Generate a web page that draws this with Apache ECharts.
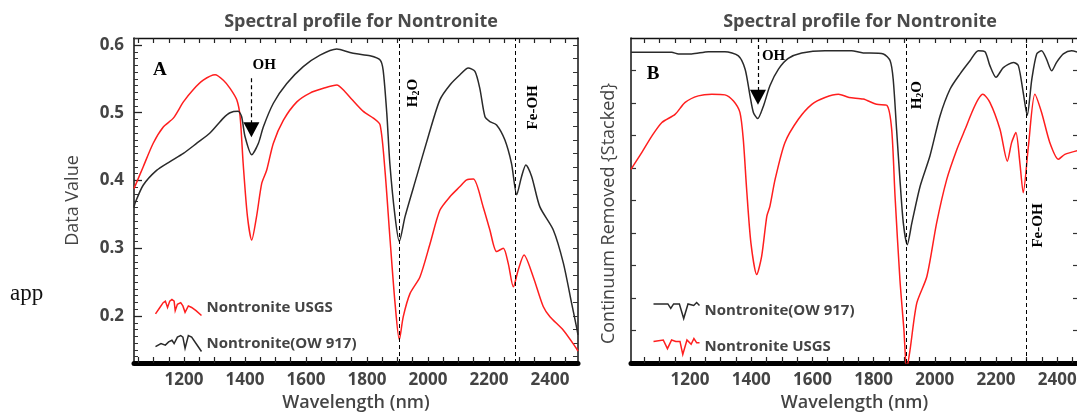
<!DOCTYPE html>
<html>
<head>
<meta charset="utf-8">
<script src="https://cdn.jsdelivr.net/npm/echarts@6/dist/echarts.min.js"></script>
<style>
html,body{margin:0;padding:0;background:#fff;}
#chart{width:1077px;height:417px;}
#app{position:absolute;left:10px;top:280px;font-family:"Liberation Serif",serif;font-size:23px;color:#111;}
</style>
</head>
<body>
<div id="chart"></div>
<div id="app">app</div>
<script>
// ---------- data ----------
const xTickLabels = [1200, 1400, 1600, 1800, 2000, 2200, 2400];
const yTickLabelsA = [0.2, 0.3, 0.4, 0.5, 0.6];
const seriesNames = ['Nontronite USGS', 'Nontronite(OW 917)'];
const titleText = 'Spectral profile for Nontronite';
const featureLinesA = [1905, 2287];
const featureLinesB = [1906, 2298];

// Panel A (Data Value)
const aOwNm = [1036,1039,1066,1110,1154,1198,1242,1285,1329,1351,1378,1389,1400,1422,1444,1460,1493,1537,1591,1646,1701,1744,1766,1810,1843,1853,1865,1875,1892,1906,1925,1963,2001,2039,2072,2105,2132,2154,2170,2187,2203,2225,2252,2274,2291,2307,2321,2340,2367,2411,2444,2471,2487,2492];
const aOwVal = [0.360,0.366,0.393,0.415,0.428,0.440,0.455,0.470,0.492,0.500,0.502,0.494,0.465,0.438,0.455,0.479,0.514,0.543,0.568,0.585,0.594,0.589,0.587,0.584,0.578,0.563,0.499,0.425,0.347,0.310,0.347,0.406,0.465,0.519,0.541,0.556,0.566,0.561,0.536,0.494,0.487,0.482,0.460,0.425,0.379,0.406,0.423,0.406,0.361,0.327,0.278,0.219,0.184,0.172];
const aUsgsNm = [1036,1066,1099,1132,1165,1198,1230,1263,1302,1329,1351,1373,1384,1394,1408,1422,1438,1455,1471,1493,1526,1570,1613,1657,1701,1728,1750,1788,1821,1843,1859,1875,1892,1906,1919,1941,1974,2007,2039,2072,2105,2127,2149,2181,2203,2225,2247,2263,2280,2296,2315,2345,2378,2400,2444,2487,2492];
const aUsgsVal = [0.388,0.420,0.455,0.479,0.492,0.516,0.534,0.548,0.556,0.548,0.536,0.519,0.494,0.425,0.347,0.312,0.347,0.396,0.415,0.455,0.489,0.516,0.529,0.536,0.541,0.531,0.520,0.502,0.492,0.482,0.415,0.317,0.219,0.165,0.199,0.233,0.258,0.307,0.356,0.376,0.391,0.401,0.402,0.361,0.327,0.295,0.300,0.278,0.243,0.268,0.290,0.258,0.214,0.199,0.179,0.152,0.148];

// Panel B (Continuum removed, stacked; relative units)
const bOwNm = [1007,1140,1162,1205,1260,1314,1358,1380,1396,1407,1421,1440,1461,1489,1521,1565,1641,1728,1766,1788,1832,1854,1864,1875,1886,1897,1910,1925,1952,1984,2017,2050,2082,2115,2142,2164,2180,2200,2224,2257,2273,2289,2302,2317,2333,2349,2365,2382,2398,2420,2447,2468];
const bOwVal = [0.956,0.956,0.951,0.951,0.958,0.958,0.945,0.904,0.822,0.771,0.752,0.791,0.853,0.904,0.937,0.954,0.961,0.961,0.954,0.954,0.951,0.930,0.873,0.719,0.565,0.431,0.364,0.431,0.544,0.637,0.760,0.843,0.889,0.930,0.961,0.958,0.915,0.879,0.909,0.925,0.915,0.832,0.762,0.873,0.951,0.961,0.935,0.899,0.925,0.951,0.961,0.956];
const bUsgsNm = [1007,1042,1075,1108,1151,1184,1227,1271,1314,1342,1363,1374,1385,1399,1418,1434,1451,1461,1478,1510,1554,1598,1641,1685,1720,1766,1810,1843,1859,1870,1886,1899,1908,1919,1941,1974,2006,2039,2072,2099,2121,2142,2157,2180,2213,2237,2251,2265,2278,2289,2306,2327,2349,2376,2404,2425,2468];
const bUsgsVal = [0.596,0.647,0.698,0.740,0.765,0.802,0.822,0.827,0.825,0.806,0.771,0.688,0.534,0.369,0.272,0.328,0.452,0.482,0.565,0.678,0.750,0.796,0.817,0.827,0.817,0.812,0.796,0.793,0.719,0.513,0.256,0.102,-0.02,0.040,0.184,0.266,0.431,0.565,0.657,0.719,0.771,0.812,0.827,0.802,0.719,0.621,0.678,0.709,0.616,0.524,0.668,0.827,0.771,0.678,0.627,0.642,0.654];

// ---------- helpers ----------
function zip(xs, ys){ return xs.map((x,i)=>[x, ys[i]]); }
function steps(a, b, s){ const out=[]; for(let v=a; v<=b+1e-9; v+=s){ out.push(Math.round(v*1000)/1000); } return out; }

const RED = '#ff1e1e', BLACK = '#2a2a2a';
const FONT = 'Open Sans';
const SERIF = 'Liberation Serif';

const xMinorTicks = steps(1050, 2450, 50);
const ATop = 38, AH = 325;

const chart = echarts.init(document.getElementById('chart'), null, {renderer:'canvas'});

function xBottom(grid, min, max){
  return {
    type:'value', gridIndex:grid, min:min, max:max, position:'bottom',
    name:'Wavelength (nm)', nameLocation:'middle', nameGap:30,
    nameTextStyle:{fontFamily:FONT, fontSize:18, fontWeight:600, color:'#444'},
    axisLine:{show:true, onZero:false, lineStyle:{color:'#000', width:5}},
    axisTick:{show:true, inside:true, length:6, customValues:xMinorTicks, lineStyle:{color:'#222', width:1.2}},
    axisLabel:{show:true, customValues:xTickLabels, formatter:v=>String(v), margin:9, fontFamily:FONT, fontSize:17, fontWeight:'bold', color:'#444'},
    splitLine:{show:false}
  };
}
function xTop(grid, min, max){
  return {
    type:'value', gridIndex:grid, min:min, max:max, position:'top',
    axisLine:{show:true, onZero:false, lineStyle:{color:'#111', width:1.3}},
    axisTick:{show:true, inside:true, length:5, customValues:xMinorTicks, lineStyle:{color:'#222', width:1.2}},
    axisLabel:{show:false}, splitLine:{show:false}
  };
}

const yMinA = 0.1306, yMaxA = 0.6103;
const serifLabel = (txt, size, rotate) => ({show:true, position:'inside', formatter:txt, rotate:rotate||0, fontFamily:SERIF, fontSize:size, fontWeight:'bold', color:'#000'});
const h2oLabel = {show:true, position:'inside', rotate:90, formatter:'{a|H}{s|2}{a|O}',
  rich:{a:{fontFamily:SERIF, fontSize:15, fontWeight:'bold', color:'#000'}, s:{fontFamily:SERIF, fontSize:10, fontWeight:'bold', color:'#000', padding:[6,0,0,0]}}};
const arrowHead = (coord) => ({coord:coord, symbol:'triangle', symbolRotate:180, symbolSize:[16,15], itemStyle:{color:'#000'}, label:{show:false}});

const option = {
  animation:false,
  backgroundColor:'#fff',
  title:[
    {text:titleText, left:356, top:8, textAlign:'center', textStyle:{fontFamily:FONT, fontSize:18, fontWeight:'bold', color:'#4a4a4a'}},
    {text:titleText, left:855, top:8, textAlign:'center', textStyle:{fontFamily:FONT, fontSize:18, fontWeight:'bold', color:'#4a4a4a'}}
  ],
  grid:[
    {left:134, top:ATop, width:444, height:AH, containLabel:false, outerBoundsMode:'none'},
    {left:631, top:ATop, width:447, height:AH, containLabel:false, outerBoundsMode:'none'}
  ],
  legend:[
    {
      orient:'vertical', left:148, top:292, itemWidth:46, itemHeight:16, itemGap:15,
      symbolKeepAspect:false,
      textStyle:{fontFamily:FONT, fontSize:15, fontWeight:'bold', color:'#444'},
      data:[
        {name:seriesNames[0], icon:'path://M0,11 L4,7 L7,4 L9,3 L11,7 L13,3 L15,2 L17,3 L18,9 L20,5 L23,4 L25,6 L27,10 L30,6 L33,7 L37,9 L42,12',
          itemStyle:{color:'none', borderColor:RED, borderWidth:1.5}},
        {name:seriesNames[1], icon:'path://M0,10 L5,8 L9,9 L12,7 L15,6 L17,8 L20,4 L23,3 L25,4 L27,11 L30,3 L33,4 L37,8 L42,13',
          itemStyle:{color:'none', borderColor:BLACK, borderWidth:1.5}}
      ]
    },
    {
      orient:'vertical', left:646, top:295, itemWidth:46, itemHeight:16, itemGap:15,
      symbolKeepAspect:false,
      textStyle:{fontFamily:FONT, fontSize:15, fontWeight:'bold', color:'#444'},
      data:[
        {name:seriesNames[1], icon:'path://M0,2 L10,2 L12,5 L14,2 L18,2 L21,12 L24,2 L28,3 L30,1 L32,3',
          itemStyle:{color:'none', borderColor:BLACK, borderWidth:1.5}},
        {name:seriesNames[0], icon:'path://M0,4 L7,3 L10,9 L13,3 L16,4 L19,4 L21,13 L24,3 L27,6 L29,2 L31,5 L33,5',
          itemStyle:{color:'none', borderColor:RED, borderWidth:1.5}}
      ]
    }
  ],
  xAxis:[
    xBottom(0, 1036, 2492),
    xTop(0, 1036, 2492),
    xBottom(1, 1007, 2468),
    xTop(1, 1007, 2468)
  ],
  yAxis:[
    { // 0: A left, labels + minor ticks
      type:'value', gridIndex:0, min:yMinA, max:yMaxA, position:'left',
      name:'Data Value', nameLocation:'middle', nameGap:52,
      nameTextStyle:{fontFamily:FONT, fontSize:18, color:'#444'},
      axisLine:{show:true, onZero:false, lineStyle:{color:'#111', width:1.5}},
      axisTick:{show:true, inside:true, length:4, customValues:steps(0.14, 0.61, 0.01), lineStyle:{color:'#333', width:1}},
      axisLabel:{show:true, customValues:yTickLabelsA, formatter:v=>String(v), margin:10, fontFamily:FONT, fontSize:17, fontWeight:'bold', color:'#444'},
      splitLine:{show:false}
    },
    { // 1: A right
      type:'value', gridIndex:0, min:yMinA, max:yMaxA, position:'right',
      axisLine:{show:true, onZero:false, lineStyle:{color:'#111', width:1.5}},
      axisTick:{show:true, inside:true, length:5, customValues:steps(0.14, 0.6, 0.02), lineStyle:{color:'#333', width:1}},
      axisLabel:{show:false}, splitLine:{show:false}
    },
    { // 2: A left major ticks
      type:'value', gridIndex:0, min:yMinA, max:yMaxA, position:'left',
      axisLine:{show:false},
      axisTick:{show:true, inside:true, length:8, customValues:yTickLabelsA, lineStyle:{color:'#222', width:1.3}},
      axisLabel:{show:false}, splitLine:{show:false}
    },
    { // 3: B left
      type:'value', gridIndex:1, min:0, max:1, position:'left',
      name:'Continuum Removed {Stacked}', nameLocation:'middle', nameGap:13,
      nameTextStyle:{fontFamily:FONT, fontSize:18, color:'#444', padding:[0,26,0,0]},
      axisLine:{show:true, onZero:false, lineStyle:{color:'#111', width:1.5}},
      axisTick:{show:true, inside:true, length:5, customValues:steps(0.1, 0.9, 0.1), lineStyle:{color:'#333', width:1.2}},
      axisLabel:{show:false}, splitLine:{show:false}
    },
    { // 4: B right
      type:'value', gridIndex:1, min:0, max:1, position:'right',
      axisLine:{show:true, onZero:false, lineStyle:{color:'#111', width:1.5}},
      axisTick:{show:true, inside:true, length:5, customValues:steps(0.1, 0.9, 0.1), lineStyle:{color:'#333', width:1.2}},
      axisLabel:{show:false}, splitLine:{show:false}
    }
  ],
  series:[
    {
      name:seriesNames[0], type:'line', xAxisIndex:0, yAxisIndex:0,
      data:zip(aUsgsNm, aUsgsVal), showSymbol:false, smooth:0.25,
      lineStyle:{color:RED, width:1.5}, itemStyle:{color:RED}, z:3,
      markLine:{
        silent:true, symbol:['none','none'], label:{show:false},
        lineStyle:{color:'#000', type:[4,3], width:1},
        data: featureLinesA.map(v=>({xAxis:v}))
      },
      markPoint:{
        symbolSize:0, silent:true,
        data:[
          {coord:[1121,0.563], label:serifLabel('A', 19)},
          {coord:[1463,0.570], label:serifLabel('OH', 15)},
          {coord:[1951,0.529], label:h2oLabel},
          {coord:[2345,0.508], label:serifLabel('Fe-OH', 15, 90)}
        ]
      }
    },
    {
      name:seriesNames[1], type:'line', xAxisIndex:0, yAxisIndex:0,
      data:zip(aOwNm, aOwVal), showSymbol:false, smooth:0.25,
      lineStyle:{color:BLACK, width:1.5}, itemStyle:{color:BLACK}, z:3,
      markLine:{
        silent:true, symbol:['none','none'], label:{show:false},
        lineStyle:{color:'#000', type:[4,3], width:1.2},
        data:[[{coord:[1421,0.551]},{coord:[1421,0.485]}]]
      },
      markPoint:{ silent:true, data:[arrowHead([1421,0.475])] }
    },
    {
      name:seriesNames[1], type:'line', xAxisIndex:2, yAxisIndex:3,
      data:zip(bOwNm, bOwVal), showSymbol:false, smooth:0.25,
      lineStyle:{color:BLACK, width:1.5}, itemStyle:{color:BLACK}, z:3,
      markLine:{
        silent:true, symbol:['none','none'], label:{show:false},
        lineStyle:{color:'#000', type:[4,3], width:1.2},
        data:[[{coord:[1422,1.0]},{coord:[1422,0.83]}]]
      },
      markPoint:{ silent:true, data:[arrowHead([1422,0.818])] }
    },
    {
      name:seriesNames[0], type:'line', xAxisIndex:2, yAxisIndex:3,
      data:zip(bUsgsNm, bUsgsVal), showSymbol:false, smooth:0.25,
      lineStyle:{color:RED, width:1.5}, itemStyle:{color:RED}, z:3,
      markLine:{
        silent:true, symbol:['none','none'], label:{show:false},
        lineStyle:{color:'#000', type:[4,3], width:1},
        data: featureLinesB.map(v=>({xAxis:v}))
      },
      markPoint:{
        symbolSize:0, silent:true,
        data:[
          {coord:[1079,0.889], label:serifLabel('B', 19)},
          {coord:[1473,0.943], label:serifLabel('OH', 15)},
          {coord:[1942,0.824], label:h2oLabel},
          {coord:[2337,0.423], label:serifLabel('Fe-OH', 15, 90)}
        ]
      }
    }
  ]
};
chart.setOption(option);
</script>
</body>
</html>
